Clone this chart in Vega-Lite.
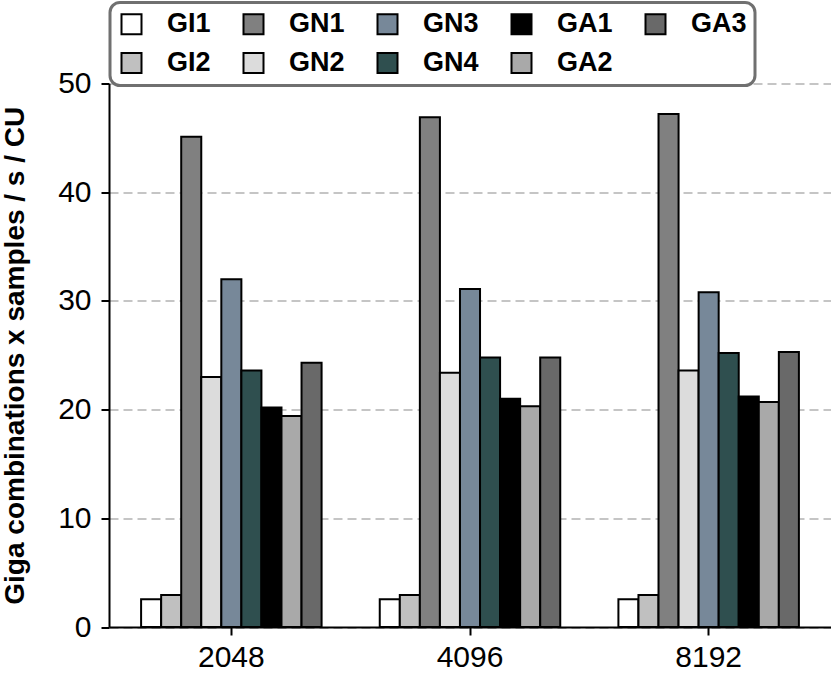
{
  "$schema": "https://vega.github.io/schema/vega-lite/v6.json",
  "width": 722,
  "height": 543.5,
  "autosize": {"type": "none"},
  "padding": {"left": 109, "top": 83.5, "right": 0, "bottom": 46},
  "background": "white",
  "data": {
    "values": [
      {"size": "2048", "kernel": "GI1", "value": 2.55},
      {"size": "2048", "kernel": "GI2", "value": 2.95},
      {"size": "2048", "kernel": "GN1", "value": 45.1},
      {"size": "2048", "kernel": "GN2", "value": 23.0},
      {"size": "2048", "kernel": "GN3", "value": 32.0},
      {"size": "2048", "kernel": "GN4", "value": 23.6},
      {"size": "2048", "kernel": "GA1", "value": 20.2},
      {"size": "2048", "kernel": "GA2", "value": 19.4},
      {"size": "2048", "kernel": "GA3", "value": 24.3},
      {"size": "4096", "kernel": "GI1", "value": 2.55},
      {"size": "4096", "kernel": "GI2", "value": 2.95},
      {"size": "4096", "kernel": "GN1", "value": 46.9},
      {"size": "4096", "kernel": "GN2", "value": 23.4},
      {"size": "4096", "kernel": "GN3", "value": 31.1},
      {"size": "4096", "kernel": "GN4", "value": 24.8},
      {"size": "4096", "kernel": "GA1", "value": 21.0},
      {"size": "4096", "kernel": "GA2", "value": 20.3},
      {"size": "4096", "kernel": "GA3", "value": 24.8},
      {"size": "8192", "kernel": "GI1", "value": 2.55},
      {"size": "8192", "kernel": "GI2", "value": 2.95},
      {"size": "8192", "kernel": "GN1", "value": 47.2},
      {"size": "8192", "kernel": "GN2", "value": 23.6},
      {"size": "8192", "kernel": "GN3", "value": 30.8},
      {"size": "8192", "kernel": "GN4", "value": 25.2},
      {"size": "8192", "kernel": "GA1", "value": 21.2},
      {"size": "8192", "kernel": "GA2", "value": 20.7},
      {"size": "8192", "kernel": "GA3", "value": 25.3}
    ]
  },
  "mark": {"type": "bar", "stroke": "black", "strokeWidth": 2, "strokeOpacity": 1, "fillOpacity": 1},
  "encoding": {
    "x": {
      "field": "size",
      "type": "nominal",
      "sort": ["2048", "4096", "8192"],
      "scale": {"paddingInner": 0.2437, "paddingOuter": 0.1345},
      "axis": {
        "title": null,
        "labelAngle": 0,
        "labelFont": "Liberation Sans",
        "labelFontSize": 30,
        "labelColor": "black",
        "labelPadding": 7,
        "domainColor": "black",
        "domainWidth": 2,
        "tickColor": "black",
        "tickWidth": 2,
        "tickSize": 8,
        "grid": false
      }
    },
    "xOffset": {
      "field": "kernel",
      "type": "nominal",
      "scale": {"domain": ["GI1", "GI2", "GN1", "GN2", "GN3", "GN4", "GA1", "GA2", "GA3"], "paddingInner": 0, "paddingOuter": 0}
    },
    "y": {
      "field": "value",
      "type": "quantitative",
      "scale": {"domain": [0, 50], "nice": false, "zero": true},
      "axis": {
        "title": "Giga combinations x samples / s / CU",
        "titleFont": "Liberation Sans",
        "titleFontSize": 28,
        "titleFontWeight": "bold",
        "titleColor": "black",
        "titlePadding": 28,
        "values": [0, 10, 20, 30, 40, 50],
        "labelFont": "Liberation Sans",
        "labelFontSize": 30,
        "labelColor": "black",
        "labelPadding": 10,
        "domainColor": "black",
        "domainWidth": 2,
        "tickColor": "black",
        "tickWidth": 2,
        "tickSize": 8,
        "grid": true,
        "gridColor": "#b3b3b3",
        "gridWidth": 1.6,
        "gridDash": [9, 5]
      }
    },
    "color": {
      "field": "kernel",
      "type": "nominal",
      "scale": {
        "domain": ["GI1", "GN1", "GN3", "GA1", "GA3", "GI2", "GN2", "GN4", "GA2"],
        "range": ["#ffffff", "#808080", "#778899", "#000000", "#696969", "#c0c0c0", "#dcdcdc", "#2f4f4f", "#a9a9a9"]
      },
      "legend": {
        "title": null,
        "orient": "none",
        "legendX": 1,
        "legendY": -81,
        "direction": "horizontal",
        "columns": 5,
        "symbolType": "square",
        "symbolSize": 400,
        "symbolStrokeColor": "black",
        "symbolStrokeWidth": 2,
        "symbolOpacity": 1,
        "labelFont": "Liberation Sans",
        "labelFontSize": 27,
        "labelFontWeight": "bold",
        "labelColor": "black",
        "labelOffset": 22,
        "columnPadding": 28,
        "rowPadding": 10,
        "padding": 8,
        "fillColor": "white",
        "strokeColor": "#707070",
        "cornerRadius": 10,
        "encode": {
          "legend": {"update": {"strokeWidth": {"value": 3}}}
        }
      }
    }
  },
  "config": {
    "view": {"stroke": null},
    "font": "Liberation Sans"
  }
}
